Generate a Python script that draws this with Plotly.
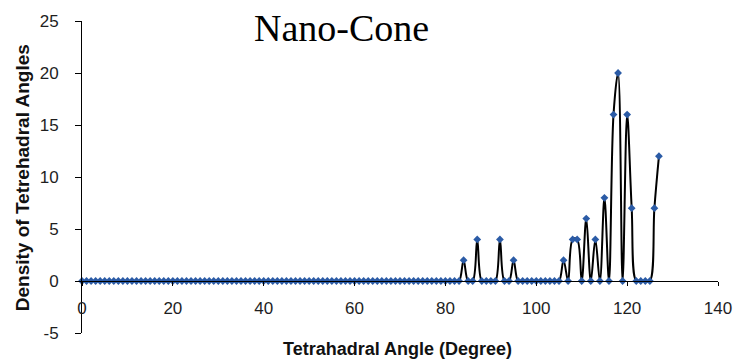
import plotly.graph_objects as go

# Tetrahedral angle (degree) sampling grid and density values
angles = [
    0, 1, 2, 3, 4, 5, 6, 7, 8, 9,
    10, 11, 12, 13, 14, 15, 16, 17, 18, 19,
    20, 21, 22, 23, 24, 25, 26, 27, 28, 29,
    30, 31, 32, 33, 34, 35, 36, 37, 38, 39,
    40, 41, 42, 43, 44, 45, 46, 47, 48, 49,
    50, 51, 52, 53, 54, 55, 56, 57, 58, 59,
    60, 61, 62, 63, 64, 65, 66, 67, 68, 69,
    70, 71, 72, 73, 74, 75, 76, 77, 78, 79,
    80, 81, 82, 83, 84, 85, 86, 87, 88, 89,
    90, 91, 92, 93, 94, 95, 96, 97, 98, 99,
    100, 101, 102, 103, 104, 105, 106, 107, 108, 109,
    110, 111, 112, 113, 114, 115, 116, 117, 118, 119,
    120, 121, 122, 123, 124, 125, 126, 127,
]
density = [
    0, 0, 0, 0, 0, 0, 0, 0, 0, 0,
    0, 0, 0, 0, 0, 0, 0, 0, 0, 0,
    0, 0, 0, 0, 0, 0, 0, 0, 0, 0,
    0, 0, 0, 0, 0, 0, 0, 0, 0, 0,
    0, 0, 0, 0, 0, 0, 0, 0, 0, 0,
    0, 0, 0, 0, 0, 0, 0, 0, 0, 0,
    0, 0, 0, 0, 0, 0, 0, 0, 0, 0,
    0, 0, 0, 0, 0, 0, 0, 0, 0, 0,
    0, 0, 0, 0, 2, 0, 0, 4, 0, 0,
    0, 0, 4, 0, 0, 2, 0, 0, 0, 0,
    0, 0, 0, 0, 0, 0, 2, 0, 4, 4,
    0, 6, 0, 4, 0, 8, 0, 16, 20, 0,
    16, 7, 0, 0, 0, 0, 7, 12,
]

x_ticks = [0, 20, 40, 60, 80, 100, 120, 140]
y_ticks = [-5, 0, 5, 10, 15, 20, 25]

title_text = "Nano-Cone"
x_title = "Tetrahadral Angle (Degree)"
y_title = "Density of Tetrehadral Angles"

W, H = 744, 362
L, R, T, B = 82, 18, 20, 29
pw = W - L - R
ph = H - T - B


def px(xp):
    return (xp - L) / pw


def py(yp):
    return (H - B - yp) / ph


fig = go.Figure()
fig.add_trace(go.Scatter(
    x=angles, y=density,
    mode="lines+markers",
    line=dict(color="#000000", width=2, shape="spline", smoothing=1),
    marker=dict(symbol="diamond", size=6, color="#2b5ba6"),
    cliponaxis=False,
    showlegend=False,
))

tickfont = dict(family="Liberation Sans", size=17, color="#1e1e1e")
fig.update_layout(
    width=W, height=H,
    margin=dict(l=L, r=R, t=T, b=B),
    paper_bgcolor="white", plot_bgcolor="white",
    xaxis=dict(
        range=[0, 140], tickvals=x_ticks, ticktext=[str(v) for v in x_ticks],
        anchor="free", position=(0 - y_ticks[0]) / (y_ticks[-1] - y_ticks[0]),
        showline=True, linecolor="#000000", linewidth=1,
        ticks="outside", ticklen=4, tickcolor="#000000",
        showgrid=False, zeroline=False,
        tickfont=tickfont, ticklabelstandoff=8,
    ),
    yaxis=dict(
        range=[-5, 25], tickvals=y_ticks, ticktext=[str(v) for v in y_ticks],
        showline=True, linecolor="#000000", linewidth=1,
        ticks="outside", ticklen=6, tickcolor="#000000",
        showgrid=False, zeroline=False,
        tickfont=tickfont, ticklabelstandoff=13,
    ),
    annotations=[
        dict(text=title_text, x=px(345), y=py(27), xref="paper", yref="paper",
             xanchor="center", yanchor="middle", showarrow=False,
             font=dict(family="Liberation Serif", size=38, color="#000000")),
        dict(text="<b>" + x_title + "</b>", x=px(401), y=py(349), xref="paper", yref="paper",
             xanchor="center", yanchor="middle", showarrow=False,
             font=dict(family="Liberation Sans", size=18, color="#111111")),
        dict(text="<b>" + y_title + "</b>", x=px(22), y=py(177), xref="paper", yref="paper",
             xanchor="center", yanchor="middle", showarrow=False, textangle=-90,
             font=dict(family="Liberation Sans", size=19, color="#111111")),
    ],
)

fig.write_html("out.html")
